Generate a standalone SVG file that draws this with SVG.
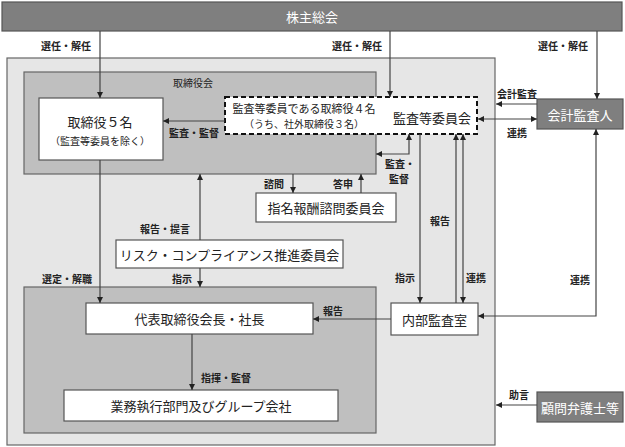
<svg xmlns="http://www.w3.org/2000/svg" width="625" height="447" viewBox="0 0 625 447">
<defs>
<marker id="ah" viewBox="0 0 6 6" refX="6" refY="3" markerWidth="6" markerHeight="6" markerUnits="userSpaceOnUse" orient="auto-start-reverse">
<path d="M0,0 L6,3 L0,6 z" fill="#222"/>
</marker>
<style>
text{font-family:"Noto Sans CJK JP","Noto Sans",sans-serif;fill:#222;text-anchor:middle;dominant-baseline:central}
.big{font-size:13px}
.lbl{font-size:10px;font-weight:bold}
.white{fill:#fff}
.wbox{fill:#fff;stroke:#555;stroke-width:1.2}
.gbox{fill:#7f7f7f;stroke:#555;stroke-width:1.2}
.conn path{fill:none;stroke:#444;stroke-width:1.2}
.e{marker-end:url(#ah)}
.b{marker-start:url(#ah);marker-end:url(#ah)}
</style>
</defs>
<rect width="625" height="447" fill="#fff"/>
<g id="shareholders">
<rect class="gbox" x="2" y="2" width="620" height="29"/>
<text class="big white" x="312" y="16.5">株主総会</text>
</g>
<g id="company">
<rect x="7" y="58" width="488" height="387" fill="#e6e6e6" stroke="#666" stroke-width="1.2"/>
</g>
<g id="board">
<rect x="24" y="72" width="352" height="102" fill="#bfbfbf" stroke="#666" stroke-width="1.2"/>
<text class="lbl" x="193" y="82" style="font-weight:normal">取締役会</text>
</g>
<g id="directors">
<rect class="wbox" x="39" y="98" width="124" height="62"/>
<text class="big" x="100" y="121">取締役５名</text>
<text x="100" y="140" style="font-size:10px">（監査等委員を除く）</text>
</g>
<g id="audit-committee">
<rect x="225" y="97" width="252" height="37" fill="#fff" stroke="#111" stroke-width="2" stroke-dasharray="5,3"/>
<text x="304" y="108" style="font-size:11px">監査等委員である取締役４名</text>
<text x="304" y="123" style="font-size:10px">（うち、社外取締役３名）</text>
<text class="big" x="432" y="117">監査等委員会</text>
</g>
<g id="nomination">
<rect class="wbox" x="256" y="193" width="140" height="29"/>
<text class="big" x="326" y="207.5">指名報酬諮問委員会</text>
</g>
<g id="risk">
<rect class="wbox" x="116" y="240" width="227" height="28"/>
<text class="big" x="229.5" y="254">リスク・コンプライアンス推進委員会</text>
</g>
<g id="execution">
<rect x="24" y="287" width="352" height="146" fill="#bfbfbf" stroke="#666" stroke-width="1.2"/>
</g>
<g id="president">
<rect class="wbox" x="86" y="303" width="227" height="31"/>
<text class="big" x="199.5" y="318.5">代表取締役会長・社長</text>
</g>
<g id="business">
<rect class="wbox" x="64" y="390" width="274" height="31"/>
<text class="big" x="201" y="405.5">業務執行部門及びグループ会社</text>
</g>
<g id="internal-audit">
<rect class="wbox" x="391" y="303" width="87" height="32"/>
<text class="big" x="434.5" y="319">内部監査室</text>
</g>
<g id="accounting-auditor">
<rect class="gbox" x="537" y="99" width="86" height="30"/>
<text class="big white" x="580" y="114">会計監査人</text>
</g>
<g id="lawyers">
<rect class="gbox" x="537" y="392" width="86" height="30"/>
<text class="big white" x="580" y="407">顧問弁護士等</text>
</g>
<g id="connectors" class="conn">
<path class="e" d="M100,31 V98"/>
<path class="e" d="M390,31 V97"/>
<path class="e" d="M597,31 V99"/>
<path class="e" d="M225,121 H163"/>
<path class="e" d="M537,104 H496"/>
<path class="b" d="M478,119 H537"/>
<path class="b" d="M409,134 V154 H376"/>
<path class="e" d="M293,174 V193"/>
<path class="e" d="M361,193 V174"/>
<path class="e" d="M200,240 V174"/>
<path class="e" d="M200,268 V287"/>
<path class="e" d="M100,160 V303"/>
<path class="e" d="M192,334 V390"/>
<path class="e" d="M391,319 H313"/>
<path class="e" d="M420,134 V303"/>
<path class="e" d="M456,303 V134"/>
<path class="b" d="M463,134 V303"/>
<path class="b" d="M596,129 V316 H478"/>
<path class="e" d="M537,405 H496"/>
</g>
<g id="labels">
<text class="lbl" x="66" y="45">選任・解任</text>
<text class="lbl" x="357" y="45">選任・解任</text>
<text class="lbl" x="563" y="45">選任・解任</text>
<text class="lbl" x="517" y="93">会計監査</text>
<text class="lbl" x="517" y="132">連携</text>
<text class="lbl" x="194" y="132">監査・監督</text>
<text class="lbl" x="400" y="163">監査・</text>
<text class="lbl" x="399" y="178">監督</text>
<text class="lbl" x="274" y="183">諮問</text>
<text class="lbl" x="343" y="183">答申</text>
<text class="lbl" x="165" y="228">報告・提言</text>
<text class="lbl" x="440" y="220">報告</text>
<text class="lbl" x="67" y="278">選定・解職</text>
<text class="lbl" x="182" y="278">指示</text>
<text class="lbl" x="405" y="277">指示</text>
<text class="lbl" x="476" y="277">連携</text>
<text class="lbl" x="580" y="279">連携</text>
<text class="lbl" x="333" y="310">報告</text>
<text class="lbl" x="226" y="377">指揮・監督</text>
<text class="lbl" x="519" y="394">助言</text>
</g>
</svg>
